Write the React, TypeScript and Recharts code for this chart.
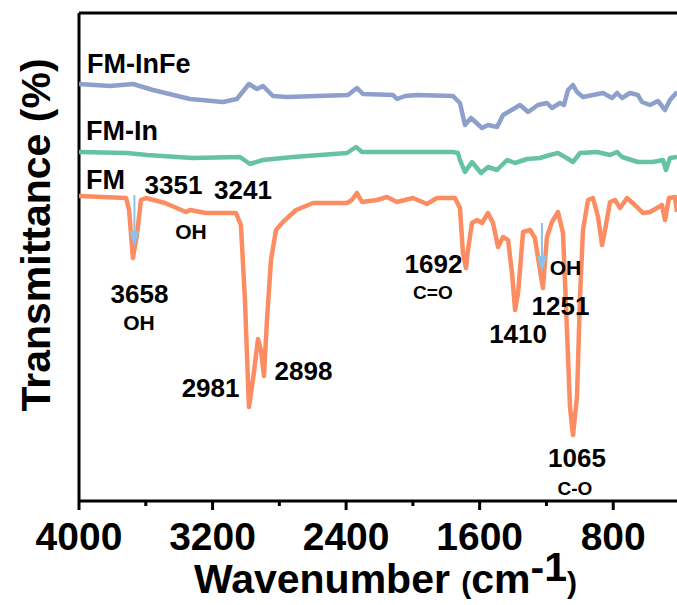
import React from 'react';
import {
  LineChart,
  Line,
  XAxis,
  YAxis,
  ReferenceLine,
  ReferenceDot,
} from 'recharts';

const FONT = '"Liberation Sans", Arial, sans-serif';

// FM-InFe spectrum
const inFeWn = [
  4000, 3814, 3677, 3557, 3335, 3137, 3054, 2982, 2934, 2898, 2838, 2754, 2389, 2335,
  2299, 2119, 2095, 2047, 1975, 1760, 1718, 1688, 1652, 1586, 1550, 1496, 1460, 1358,
  1310, 1251, 1197, 1167, 1119, 1095, 1071, 1041, 1017, 981, 861, 807, 777, 747, 700,
  652, 628, 580, 532, 490, 460, 418,
];
const inFeT = [
  417, 415, 417, 411, 402, 399, 402, 417, 412, 415, 405, 404, 406, 413,
  407, 406, 402, 405, 406, 405, 398, 376, 383, 373, 376, 374, 386, 396,
  389, 396, 398, 393, 398, 396, 411, 416, 409, 404, 408, 403, 408, 403, 408,
  406, 399, 396, 400, 391, 401, 409,
];

// FM-In spectrum
const inWn = [
  4000, 3712, 3593, 3317, 3036, 2976, 2898, 2718, 2395, 2341, 2305, 1760, 1730, 1718,
  1688, 1646, 1592, 1550, 1496, 1436, 1388, 1316, 1239, 1179, 1131, 1089, 1041, 999,
  897, 819, 777, 747, 652, 562, 502, 484, 460, 418,
];
const inT = [
  349, 348, 346, 343, 344, 337, 341, 344, 348, 354, 349, 349, 348, 341,
  329, 339, 328, 334, 331, 341, 338, 342, 343, 346, 348, 344, 339, 348,
  349, 346, 349, 344, 339, 339, 341, 331, 343, 344,
];

// FM spectrum
const fmWn = [
  4000, 3718, 3700, 3677, 3653, 3629, 3599, 3485, 3359, 3335, 3239, 3060, 3030, 3006,
  2982, 2958, 2928, 2910, 2892, 2874, 2850, 2820, 2778, 2700, 2598, 2395, 2365, 2335,
  2305, 2215, 2155, 2095, 1999, 1916, 1856, 1748, 1718, 1700, 1682, 1670, 1646, 1616,
  1586, 1550, 1520, 1490, 1460, 1430, 1406, 1388, 1370, 1340, 1298, 1269, 1239, 1221,
  1197, 1167, 1131, 1101, 1077, 1059, 1041, 1017, 999, 981, 951, 921, 891, 867, 849,
  819, 789, 759, 717, 658, 622, 580, 538, 508, 490, 466, 430, 418,
];
const fmT = [
  305, 303, 291, 243, 266, 301, 303, 298, 289, 291, 288, 288, 276, 201,
  94, 121, 162, 151, 125, 181, 241, 271, 279, 291, 298, 298, 301, 308,
  299, 301, 304, 299, 303, 297, 303, 303, 293, 248, 233, 251, 278, 281,
  278, 288, 278, 254, 264, 261, 228, 191, 208, 269, 271, 263, 231, 213,
  264, 279, 289, 268, 171, 94, 66, 104, 204, 271, 301, 303, 284, 256, 271,
  299, 301, 293, 303, 294, 288, 289, 293, 296, 281, 303, 304, 289,
];

const xTicks = [4000, 3600, 3200, 2800, 2400, 2000, 1600, 1200, 800, 400];
const xLabelled = [4000, 3200, 2400, 1600, 800];

const annotations = [
  { wn: 3952, t: 428, text: 'FM-InFe', size: 27, anchor: 'start' },
  { wn: 3958, t: 361, text: 'FM-In', size: 27, anchor: 'start' },
  { wn: 3958, t: 312, text: 'FM', size: 27, anchor: 'start' },
  { wn: 3434, t: 307, text: '3351', size: 26, anchor: 'middle' },
  { wn: 3018, t: 302, text: '3241', size: 26, anchor: 'middle' },
  { wn: 3329, t: 262, text: 'OH', size: 21, anchor: 'middle' },
  { wn: 3638, t: 198, text: '3658', size: 26, anchor: 'middle' },
  { wn: 3641, t: 171, text: 'OH', size: 21, anchor: 'middle' },
  { wn: 3212, t: 104, text: '2981', size: 26, anchor: 'middle' },
  { wn: 2655, t: 121, text: '2898', size: 26, anchor: 'middle' },
  { wn: 1877, t: 228, text: '1692', size: 26, anchor: 'middle' },
  { wn: 1880, t: 202, text: 'C=O', size: 19, anchor: 'middle' },
  { wn: 1086, t: 226, text: 'OH', size: 21, anchor: 'middle' },
  { wn: 1116, t: 186, text: '1251', size: 26, anchor: 'middle' },
  { wn: 1370, t: 158, text: '1410', size: 26, anchor: 'middle' },
  { wn: 1017, t: 34, text: '1065', size: 26, anchor: 'middle' },
  { wn: 1029, t: 6, text: 'C-O', size: 19, anchor: 'middle' },
];

const arrows = [
  { wn: 3668, from: 306, to: 254 },
  { wn: 1227, from: 278, to: 229 },
];

const toPoints = (wn: number[], t: number[]) => wn.map((w, i) => ({ wn: w, t: t[i] }));

const inFeData = toPoints(inFeWn, inFeT);
const inData = toPoints(inWn, inT);
const fmData = toPoints(fmWn, fmT);

const ARROW = '#8bc1ea';

const XTick = (props: any) => {
  const { x, y, payload } = props;
  const major = xLabelled.includes(payload.value);
  return (
    <g>
      <line x1={x} x2={x} y1={y} y2={y + (major ? 9 : 5)} stroke="#000" strokeWidth={3} />
      {major && (
        <text
          x={x}
          y={y + 49}
          textAnchor="middle"
          fontFamily={FONT}
          fontWeight="bold"
          fontSize={39}
          fill="#000"
        >
          {payload.value}
        </text>
      )}
    </g>
  );
};

const XLabel = (props: any) => {
  const vb = props.viewBox;
  return (
    <text
      x={vb.x + vb.width / 2 + 6}
      y={vb.y + 92}
      textAnchor="middle"
      fontFamily={FONT}
      fontWeight="bold"
      fontSize={41}
      fill="#000"
    >
      Wavenumber <tspan fontSize={30}>(</tspan>cm
      <tspan dy={-12}>-1</tspan>
      <tspan dy={12} fontSize={30}>)</tspan>
    </text>
  );
};

// rotated axis title, hung on the left frame line
const YLabel = (props: any) => {
  const vb = props.viewBox;
  const cx = vb.x - 43;
  const cy = 235;
  return (
    <text
      x={cx}
      y={cy}
      transform={`rotate(-90 ${cx} ${cy})`}
      textAnchor="middle"
      dominantBaseline="central"
      fontFamily={FONT}
      fontWeight="bold"
      fontSize={41}
      fill="#000"
    >
      Transmittance (%)
    </text>
  );
};

export default function App() {
  return (
    <div
      style={{
        position: 'absolute',
        left: 0,
        top: 0,
        width: 677,
        height: 605,
        overflow: 'hidden',
        background: '#fff',
      }}
    >
      <LineChart width={690} height={605} margin={{ top: 13, right: 10, left: 79, bottom: 0 }}>
        <XAxis
          dataKey="wn"
          type="number"
          domain={[400, 4000]}
          reversed
          ticks={xTicks}
          interval={0}
          allowDataOverflow
          height={104}
          tickSize={0}
          tickMargin={0}
          tickLine={false}
          axisLine={{ stroke: '#000', strokeWidth: 3 }}
          tick={<XTick />}
          label={<XLabel />}
        />
        <YAxis type="number" domain={[0, 488]} allowDataOverflow hide />
        <ReferenceLine y={488} stroke="#000" strokeWidth={3} ifOverflow="visible" />
        <ReferenceLine
          x={4000}
          stroke="#000"
          strokeWidth={3}
          ifOverflow="visible"
          label={<YLabel />}
        />

        <Line
          data={inFeData}
          dataKey="t"
          type="linear"
          stroke="#8da0cb"
          strokeWidth={4.5}
          strokeLinejoin="round"
          dot={false}
          isAnimationActive={false}
        />
        <Line
          data={inData}
          dataKey="t"
          type="linear"
          stroke="#66c2a5"
          strokeWidth={4.5}
          strokeLinejoin="round"
          dot={false}
          isAnimationActive={false}
        />
        <Line
          data={fmData}
          dataKey="t"
          type="linear"
          stroke="#fc8d62"
          strokeWidth={4.5}
          strokeLinejoin="round"
          dot={false}
          isAnimationActive={false}
        />

        {arrows.map((a, i) => (
          <ReferenceLine
            key={`shaft-${i}`}
            segment={[
              { x: a.wn, y: a.from },
              { x: a.wn, y: a.to + 10 },
            ]}
            stroke={ARROW}
            strokeWidth={2}
          />
        ))}
        {arrows.map((a, i) => (
          <ReferenceDot
            key={`head-${i}`}
            x={a.wn}
            y={a.to}
            r={0}
            shape={(p: any) => (
              <polygon
                points={`${p.cx},${p.cy} ${p.cx - 5},${p.cy - 16} ${p.cx + 5},${p.cy - 16}`}
                fill={ARROW}
              />
            )}
          />
        ))}

        {annotations.map((a, i) => (
          <ReferenceDot
            key={`ann-${i}`}
            x={a.wn}
            y={a.t}
            r={0}
            shape={(p: any) => (
              <text
                x={p.cx}
                y={p.cy}
                textAnchor={a.anchor}
                fontFamily={FONT}
                fontWeight="bold"
                fontSize={a.size}
                fill="#000"
              >
                {a.text}
              </text>
            )}
          />
        ))}
      </LineChart>
    </div>
  );
}
